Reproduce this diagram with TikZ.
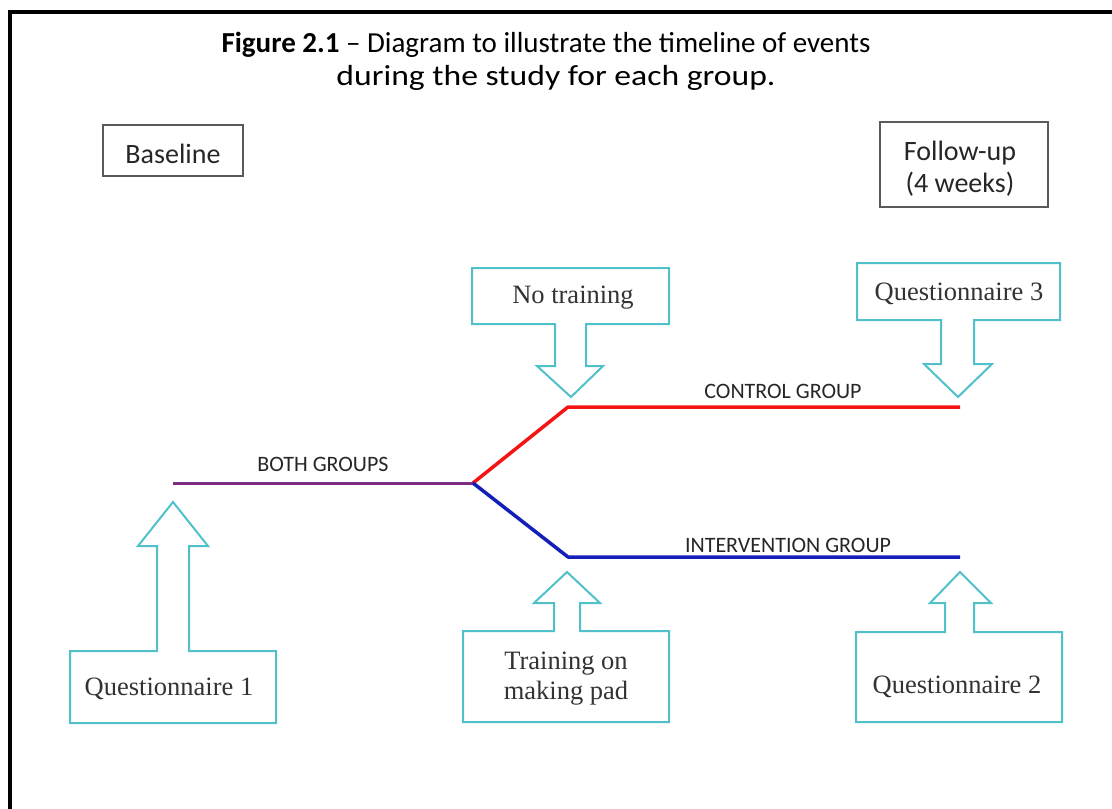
\documentclass[tikz,border=0pt]{standalone}
\usepackage{fontspec}
\setmainfont{Carlito}
\newfontfamily\boxserif{Liberation Serif}
\definecolor{callcyan}{RGB}{80,192,202}
\definecolor{tlpurple}{RGB}{125,45,130}
\definecolor{tlred}{RGB}{245,20,20}
\definecolor{tlblue}{RGB}{20,30,185}
\definecolor{boxgray}{RGB}{90,90,90}
\tikzset{
  callout/.style={draw=callcyan, line width=2pt, line join=miter, fill=white},
  calltext/.style={font=\boxserif\fontsize{26.5}{30}\selectfont, anchor=base, inner sep=0pt, text=black!80},
  phasebox/.style={draw=boxgray, line width=2pt},
  phasetext/.style={font=\fontsize{28}{32}\selectfont, anchor=base, inner sep=0pt, text=black!85},
  grouplabel/.style={font=\fontsize{22}{24}\selectfont, anchor=base, inner sep=0pt, text=black!85},
  titletext/.style={font=\fontsize{29}{33}\selectfont, anchor=base, inner sep=0pt},
  tlline/.style={line width=3.5pt, line join=round}
}
\begin{document}
\begin{tikzpicture}[x=1pt,y=-1pt]
\useasboundingbox (0,0) rectangle (1112,809);
% frame
\draw[line width=4pt, line join=miter] (10,811) -- (10,12) -- (1114,12);
% title
\node[titletext] (t1) at (546,52) {\textbf{Figure 2.1} -- Diagram to illustrate the timeline of events};
\node[titletext] (t2) at (556,85) {\scalebox{1.16}[1]{during the study for each group.}};
% phase boxes
\draw[phasebox] (103,125) rectangle (243,176);
\node[phasetext] (base) at (173,163) {Baseline};
\draw[phasebox] (880,122) rectangle (1048,207);
\node[phasetext] (fu1) at (960,160) {Follow-up};
\node[phasetext] (fu2) at (960,192) {(4 weeks)};
% timeline coordinates
\coordinate (start) at (173,483);
\coordinate (split) at (473,483);
\coordinate (rbend) at (568,407);
\coordinate (rend) at (960,407);
\coordinate (bbend) at (568,557);
\coordinate (bend) at (960,557);
\draw[tlline, draw=tlpurple, line width=3pt] (start) -- (split);
\draw[tlline, draw=tlred] (split) -- (rbend) -- (rend);
\draw[tlline, draw=tlblue] (split) -- (bbend) -- (bend);
\node[grouplabel] (both) at (323,471) {BOTH GROUPS};
\node[grouplabel] (ctrl) at (783,398) {CONTROL GROUP};
\node[grouplabel] (intv) at (788,552) {INTERVENTION GROUP};
% callouts
\draw[callout] (70,723) -- (70,651) -- (157,651) -- (157,546) -- (138,546) -- (173,502) -- (208,546) -- (189,546) -- (189,651) -- (276,651) -- (276,723) -- cycle;
\node[calltext] (q1) at (169,695) {Questionnaire 1};
\draw[callout] (472,268) -- (669,268) -- (669,324) -- (586,324) -- (586,366) -- (603,366) -- (571,397) -- (537,366) -- (555,366) -- (555,324) -- (472,324) -- cycle;
\node[calltext] (nt) at (573,303) {No training};
\draw[callout] (463,722) -- (463,631) -- (554,631) -- (554,603) -- (534,603) -- (567,572) -- (600,603) -- (580,603) -- (580,631) -- (669,631) -- (669,722) -- cycle;
\node[calltext] (tr1) at (566,669) {Training on};
\node[calltext] (tr2) at (566,699) {making pad};
\draw[callout] (857,263) -- (1060,263) -- (1060,320) -- (974,320) -- (974,364) -- (992,364) -- (958,397) -- (924,364) -- (941,364) -- (941,320) -- (857,320) -- cycle;
\node[calltext] (q3) at (959,300) {Questionnaire 3};
\draw[callout] (856,722) -- (856,632) -- (945,632) -- (945,603) -- (930,603) -- (960,572) -- (991,603) -- (974,603) -- (974,632) -- (1062,632) -- (1062,722) -- cycle;
\node[calltext] (q2) at (957,693) {Questionnaire 2};
\end{tikzpicture}
\end{document}
